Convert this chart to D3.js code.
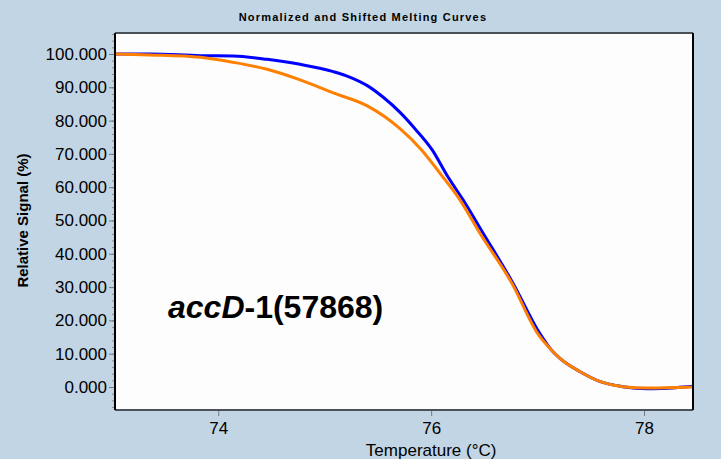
<!DOCTYPE html>
<html>
<head>
<meta charset="utf-8">
<script src="https://cdn.jsdelivr.net/npm/d3@7"></script>
<style>
  body { margin: 0; background: #c2d5e4; }
  text { font-family: "Liberation Sans", Arial, sans-serif; }
</style>
</head>
<body>
<div id="chart"></div>
<script>
// data
var tempBlue   = [73.03, 73.36, 73.83, 74.14, 74.46, 74.77, 75.08, 75.24, 75.40, 75.55, 75.71, 75.85, 76.01, 76.15, 76.30, 76.49, 76.77, 77.02, 77.13, 77.21, 77.40, 77.59, 77.80, 78.03, 78.30, 78.46];
var signalBlue = [100.0, 100.0, 99.5, 99.4, 98.4, 96.9, 94.7, 93.0, 90.5, 87.0, 82.4, 77.5, 71.2, 63.5, 56.2, 46.1, 31.1, 16.1, 11.1, 8.6, 4.6, 1.6, 0.1, -0.5, -0.2, 0.2];

var tempOrange   = [73.03, 73.36, 73.83, 74.14, 74.46, 74.77, 75.08, 75.40, 75.71, 75.91, 76.10, 76.27, 76.46, 76.76, 77.00, 77.13, 77.21, 77.40, 77.59, 77.80, 78.03, 78.46];
var signalOrange = [100.0, 99.7, 99.0, 97.5, 95.4, 92.2, 88.3, 84.4, 77.5, 71.2, 63.5, 56.2, 46.1, 31.1, 16.1, 11.1, 8.6, 4.6, 1.6, 0.1, -0.3, 0.0];

var xTicks = [74, 76, 78];
var yTicks = [0, 10, 20, 30, 40, 50, 60, 70, 80, 90, 100];
var yMinor = d3.range(-6, 107, 2);

var W = 721, H = 459;
var margin = {top: 33, right: 28, bottom: 49, left: 115},
    width = W - margin.left - margin.right,
    height = H - margin.top - margin.bottom;

var svg = d3.select("#chart")
  .append("svg")
    .attr("width", W)
    .attr("height", H);

svg.append("rect")
  .attr("width", W).attr("height", H)
  .attr("fill", "#c2d5e4");

var g = svg.append("g")
  .attr("transform", "translate(" + margin.left + "," + margin.top + ")");

var x = d3.scaleLinear().domain([73.03, 78.46]).range([0, width]);
var y = d3.scaleLinear().domain([-6.9, 106.3]).range([height, 0]);

// plot background
g.append("rect")
  .attr("width", width).attr("height", height)
  .attr("fill", "#fdfdfd");

g.append("clipPath").attr("id", "clip")
  .append("rect").attr("width", width).attr("height", height);

var line = d3.line()
  .x(d => x(d[0]))
  .y(d => y(d[1]))
  .curve(d3.curveMonotoneX);

var blue = tempBlue.map((t, i) => [t, signalBlue[i]]);
var orange = tempOrange.map((t, i) => [t, signalOrange[i]]);

g.append("path")
  .datum(blue)
  .attr("clip-path", "url(#clip)")
  .attr("fill", "none")
  .attr("stroke", "#0000ff")
  .attr("stroke-width", 3)
  .attr("d", line);

g.append("path")
  .datum(orange)
  .attr("clip-path", "url(#clip)")
  .attr("fill", "none")
  .attr("stroke", "#ff8000")
  .attr("stroke-width", 3)
  .attr("d", line);

// y axis minor ticks
g.append("g")
  .call(d3.axisLeft(y).tickValues(yMinor).tickSize(3).tickFormat(""))
  .call(a => a.select(".domain").remove())
  .call(a => a.selectAll("line").attr("stroke", "#888"));

// y axis
g.append("g")
  .call(d3.axisLeft(y).tickValues(yTicks).tickSize(6).tickPadding(2).tickFormat(d3.format(".3f")))
  .call(a => a.select(".domain").remove())
  .call(a => a.selectAll("line").attr("stroke", "#777"))
  .call(a => a.selectAll("text")
    .attr("font-family", "'Liberation Sans', Arial, sans-serif")
    .attr("font-size", 17)
    .attr("fill", "#000"));

// x axis
g.append("g")
  .attr("transform", "translate(0," + height + ")")
  .call(d3.axisBottom(x).tickValues(xTicks).tickSize(6).tickPadding(6).tickFormat(d3.format("d")))
  .call(a => a.select(".domain").remove())
  .call(a => a.selectAll("line").attr("stroke", "#777"))
  .call(a => a.selectAll("text")
    .attr("font-family", "'Liberation Sans', Arial, sans-serif")
    .attr("font-size", 17)
    .attr("fill", "#000"));

// frame
g.append("line").attr("x1", 0).attr("x2", width).attr("y1", 0).attr("y2", 0)
  .attr("stroke", "#4a5058").attr("stroke-width", 2);
g.append("line").attr("x1", 0).attr("x2", width).attr("y1", height).attr("y2", height)
  .attr("stroke", "#4a5058").attr("stroke-width", 2);
g.append("line").attr("x1", 0).attr("x2", 0).attr("y1", 0).attr("y2", height)
  .attr("stroke", "#000").attr("stroke-width", 2);
g.append("line").attr("x1", width).attr("x2", width).attr("y1", 0).attr("y2", height)
  .attr("stroke", "#000").attr("stroke-width", 2);

// title
svg.append("text")
  .attr("x", 363).attr("y", 21)
  .attr("text-anchor", "middle")
  .attr("font-size", 11)
  .attr("font-weight", "bold")
  .attr("letter-spacing", 1.2)
  .text("Normalized and Shifted Melting Curves");

// axis labels
svg.append("text")
  .attr("x", margin.left + x(76)).attr("y", 456)
  .attr("text-anchor", "middle")
  .attr("font-size", 17)
  .text("Temperature (°C)");

svg.append("text")
  .attr("transform", "translate(28," + (margin.top + y(50)) + ") rotate(-90)")
  .attr("text-anchor", "middle")
  .attr("font-size", 15)
  .attr("font-weight", "bold")
  .text("Relative Signal (%)");

// annotation
var note = svg.append("text")
  .attr("x", 168).attr("y", 318)
  .attr("font-size", 32)
  .attr("font-weight", "bold");
note.append("tspan").attr("font-style", "italic").text("accD");
note.append("tspan").text("-1(57868)");
</script>
</body>
</html>
